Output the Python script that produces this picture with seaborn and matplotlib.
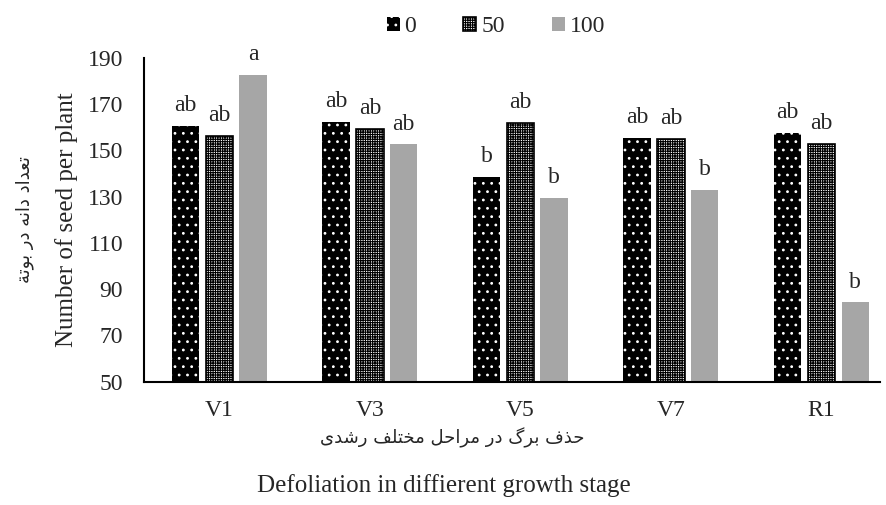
import pandas as pd
import matplotlib
matplotlib.use('Agg')
import matplotlib.pyplot as plt
import seaborn as sns

# datos
stages = ['V1', 'V3', 'V5', 'V7', 'R1']
levels = ['0', '50', '100']
seed_0 = [160.8, 162.5, 138.7, 155.6, 157.5]
seed_50 = [156.4, 159.3, 161.8, 155.0, 152.9]
seed_100 = [182.7, 152.7, 129.5, 133.0, 84.3]
letters_0 = ['ab', 'ab', 'b', 'ab', 'ab']
letters_50 = ['ab', 'ab', 'ab', 'ab', 'ab']
letters_100 = ['a', 'ab', 'b', 'b', 'b']
y_ticks = [50, 70, 90, 110, 130, 150, 170, 190]

# textos persas en formas de presentacion, en orden visual
def visual(words):
    s = ' '.join(''.join(chr(c) for c in w) for w in words)
    return s[::-1]

fa_ylabel = visual([[0xFE97, 0xFECC, 0xFEAA, 0xFE8D, 0xFEA9],
                    [0xFEA9, 0xFE8D, 0xFEE7, 0xFEEA],
                    [0xFEA9, 0xFEAD],
                    [0xFE91, 0xFEEE, 0xFE97, 0xFE94]])
fa_xlabel = visual([[0xFEA3, 0xFEAC, 0xFED1],
                    [0xFE91, 0xFEAE, 0xFB92],
                    [0xFEA9, 0xFEAD],
                    [0xFEE3, 0xFEAE, 0xFE8D, 0xFEA3, 0xFEDE],
                    [0xFEE3, 0xFEA8, 0xFE98, 0xFEE0, 0xFED2],
                    [0xFEAD, 0xFEB7, 0xFEAA, 0xFEEF]])

df = pd.DataFrame({
    'stage': stages * 3,
    'level': ['0'] * 5 + ['50'] * 5 + ['100'] * 5,
    'seed': seed_0 + seed_50 + seed_100,
})

sns.set_style('white')
plt.rcParams['font.family'] = ['Liberation Serif', 'DejaVu Sans']
plt.rcParams['hatch.linewidth'] = 0.8

fig = plt.figure(figsize=(8.87, 5.05), dpi=100)
ax = fig.add_axes([0.1624, 0.2442, 0.8298, 0.6409])

sns.barplot(data=df, x='stage', y='seed', hue='level', order=stages, hue_order=levels,
            palette=['black', 'white', '#a6a6a6'], width=0.675, gap=0.19, ax=ax)

handles, labels = ax.get_legend_handles_labels()
ax.legend_.remove()

# estilos de las barras (y de la leyenda)
def style(patches, face, edge, lw, hatch):
    for p in patches:
        p.set_facecolor(face)
        p.set_edgecolor(edge)
        p.set_linewidth(lw)
        p.set_hatch(hatch)

style(list(ax.containers[0]) + [handles[0]], 'black', 'white', 0, '..')
style(list(ax.containers[1]) + [handles[1]], 'white', 'black', 1.2, '+++++++')
style(list(ax.containers[2]) + [handles[2]], '#a6a6a6', '#a6a6a6', 0, None)

# letras de comparacion
for cont, labs in zip(ax.containers, [letters_0, letters_50, letters_100]):
    for bar, lab in zip(cont, labs):
        ax.annotate(lab, (bar.get_x() + bar.get_width() / 2, bar.get_height()),
                    xytext=(0, 7), textcoords='offset points',
                    ha='center', va='bottom', fontsize=17)

ax.set_ylim(50, 190)
ax.set_yticks(y_ticks)
ax.set_xlim(-0.5, 4.39)
ax.tick_params(axis='x', length=0, labelsize=17, pad=13)
ax.tick_params(axis='y', length=0, labelsize=17, pad=15)
ax.set_xlabel('')
ax.set_ylabel('Number of seed per plant', fontsize=18, labelpad=7)
for s in ['top', 'right']:
    ax.spines[s].set_visible(False)
for s in ['left', 'bottom']:
    ax.spines[s].set_color('black')
    ax.spines[s].set_linewidth(1.5)

fig.legend(handles, labels, loc='center', bbox_to_anchor=(0.559, 1 - 27 / 505), ncol=3,
           frameon=False, fontsize=17, handlelength=0.55, handleheight=0.55,
           handletextpad=0.2, columnspacing=2.0)

fig.text(0.51, 1 - 438 / 505, fa_xlabel, ha='center', va='center', fontsize=13,
         family='DejaVu Sans')
fig.text(0.5, 1 - 486 / 505, 'Defoliation in diffierent growth stage', ha='center',
         va='center', fontsize=18)
fig.text(25 / 887, 1 - 220 / 505, fa_ylabel, ha='center', va='center', fontsize=13,
         rotation=90, family='DejaVu Sans')

fig.savefig('out.png', dpi=100)
